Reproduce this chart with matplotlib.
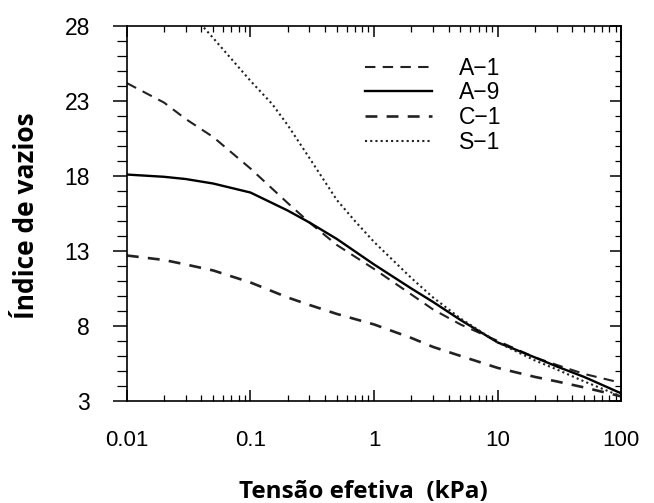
import numpy as np
import matplotlib
matplotlib.use('Agg')
import matplotlib.pyplot as plt
from matplotlib.ticker import FixedLocator, MultipleLocator, LogLocator, NullFormatter

# tensao efetiva (kPa) e indice de vazios
x_pts = [0.01, 0.02, 0.03, 0.05, 0.1, 0.2, 0.3, 0.5, 1, 2, 3, 5, 10, 20, 30, 50, 100]
a1 = [24.2, 22.9, 21.8, 20.6, 18.5, 16.2, 14.9, 13.4, 11.8, 10.1, 9.1, 8.1, 7.0, 5.9, 5.4, 4.8, 4.2]
a9 = [18.1, 17.95, 17.8, 17.5, 16.9, 15.7, 14.9, 13.8, 12.1, 10.5, 9.6, 8.4, 6.9, 5.9, 5.3, 4.6, 3.5]
c1 = [12.7, 12.4, 12.1, 11.7, 10.9, 9.9, 9.4, 8.8, 8.1, 7.2, 6.6, 6.0, 5.2, 4.6, 4.3, 3.9, 3.3]
x_s1 = [0.042, 0.05, 0.1, 0.15, 0.2, 0.3, 0.5, 0.7, 1, 2, 3, 5, 10, 20, 30, 50, 100]
s1 = [27.9, 27.2, 24.35, 22.8, 21.4, 19.2, 16.4, 15.0, 13.6, 11.2, 9.9, 8.5, 6.9, 5.7, 5.1, 4.3, 3.3]

xticks = [0.01, 0.1, 1, 10, 100]
xlabels = ['0.01', '0.1', '1', '10', '100']
yticks = [3, 8, 13, 18, 23, 28]

fig = plt.figure(figsize=(6.54, 5.03), dpi=100)
ax = fig.add_axes([0.194, 0.203, 0.756, 0.745])

ax.plot(x_pts, a1, color='#222222', lw=1.5, dashes=(5, 3.5), label='A\u22121')
ax.plot(x_pts, a9, color='black', lw=1.7, label='A\u22129')
ax.plot(x_pts, c1, color='#222222', lw=1.9, dashes=(4.5, 3.5), label='C\u22121')
ax.plot(x_s1, s1, color='#222222', lw=1.5, dashes=(1, 1.5), label='S\u22121')

ax.set_xscale('log')
ax.set_xlim(0.01, 100)
ax.set_ylim(3, 28)
ax.set_xticks(xticks)
ax.set_xticklabels(xlabels)
ax.xaxis.set_minor_locator(LogLocator(base=10, subs=np.arange(2, 10)))
ax.xaxis.set_minor_formatter(NullFormatter())
ax.yaxis.set_major_locator(FixedLocator(yticks))
ax.yaxis.set_minor_locator(MultipleLocator(1))

for s in ax.spines.values():
    s.set_linewidth(1.2)

ax.tick_params(axis='x', which='both', direction='in', top=True, bottom=True)
ax.tick_params(axis='x', which='major', length=8, width=1.1, pad=21, labelsize=16)
ax.tick_params(axis='x', which='minor', length=4, width=0.9)
ax.tick_params(axis='y', which='both', direction='out', right=False)
ax.tick_params(axis='y', which='major', length=10, width=1.1, pad=16.5, labelsize=16.5)
ax.tick_params(axis='y', which='minor', length=7, width=0.9)

sec = ax.secondary_yaxis('right')
sec.yaxis.set_major_locator(FixedLocator(yticks))
sec.yaxis.set_minor_locator(MultipleLocator(1))
sec.tick_params(which='both', direction='in', labelright=False)
sec.tick_params(which='major', length=8, width=1.1)
sec.tick_params(which='minor', length=4, width=0.9)
sec.spines['right'].set_linewidth(1.2)

for lab in ax.get_xticklabels() + ax.get_yticklabels():
    lab.set_family('Liberation Sans')

leg = ax.legend(loc='upper left', bbox_to_anchor=(0.482, 0.918), frameon=False,
                handlelength=2.9, labelspacing=0.07, handletextpad=1.2,
                borderpad=0, borderaxespad=0,
                prop={'family': 'Liberation Sans', 'size': 16.5})

fig.text(0.555, 0.01, 'Tensão efetiva  (kPa)', ha='center', va='baseline',
         fontsize=17.5, fontweight='bold', family='Open Sans')
fig.text(0.041, 0.571, 'Índice de vazios', ha='center', va='center', rotation=90,
         fontsize=19, fontweight='bold', family='Open Sans')

fig.savefig('out.png', dpi=100)
